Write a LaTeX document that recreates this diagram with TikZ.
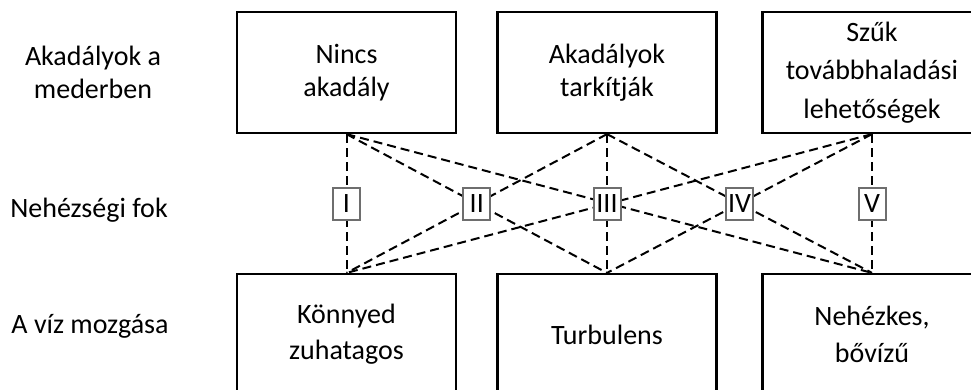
\documentclass[tikz,border=0pt]{standalone}
\usepackage{fontspec}
\setmainfont{Carlito}
\usetikzlibrary{calc}
\definecolor{numgray}{HTML}{6E6E6E}
\begin{document}
\begin{tikzpicture}[x=1pt,y=-1pt,
  bigbox/.style={draw=black,line width=2.2pt,minimum width=219pt,minimum height=121pt,align=center,inner sep=0pt},
  txt/.style={font=\fontsize{28}{33}\selectfont},
  conn/.style={draw=black,line width=2pt,dash pattern=on 9pt off 5pt},
  deg/.style={draw=numgray,fill=white,line width=2pt,minimum width=27pt,minimum height=32pt,inner sep=0pt,font=\fontsize{28}{30}\selectfont},
  side/.style={align=center,inner sep=0pt,font=\fontsize{28}{33}\selectfont}]
\useasboundingbox (0,0) rectangle (971,389);
\clip (0,0) rectangle (971,389);
% left labels
\node[side] (l1) at (93,72) {Akadályok a\\mederben};
\node[side,anchor=base] (l2) at (89,217) {Nehézségi fok};
\node[side,anchor=base] (l3) at (90,333) {A víz mozgása};
% top boxes
\node[bigbox,txt] (t1) at (346.5,72.5) {Nincs\\akadály};
\node[bigbox,txt] (t2) at (607,72.5) {Akadályok\\tarkítják};
\node[bigbox,font=\fontsize{28}{38.5}\selectfont] (t3) at (872,72.5) {Szűk\\továbbhaladási\\lehetőségek};
% bottom boxes
\node[bigbox,font=\fontsize{28}{36}\selectfont] (b1) at (346.5,334.5) {Könnyed\\zuhatagos};
\node[bigbox,txt] (b2) at (607,334.5) {Turbulens};
\node[bigbox,font=\fontsize{28}{37}\selectfont] (b3) at (872,334.5) {Nehézkes,\\bővízű};
% connectors
\draw[conn] (t1.south) -- (b1.north);
\draw[conn] (t1.south) -- (b2.north);
\draw[conn] (t2.south) -- (b1.north);
\draw[conn] (t1.south) -- (b3.north);
\draw[conn] (t2.south) -- (b2.north);
\draw[conn] (t3.south) -- (b1.north);
\draw[conn] (t2.south) -- (b3.north);
\draw[conn] (t3.south) -- (b2.north);
\draw[conn] (t3.south) -- (b3.north);
% degree boxes
\node[deg] (d1) at ($(t1.south)!0.5!(b1.north)$) {I};
\node[deg] (d2) at ($(t1.south)!0.5!(b2.north)$) {II};
\node[deg] (d3) at ($(t2.south)!0.5!(b2.north)$) {III};
\node[deg] (d4) at ($(t2.south)!0.5!(b3.north)$) {IV};
\node[deg] (d5) at ($(t3.south)!0.5!(b3.north)$) {V};
\end{tikzpicture}
\end{document}
